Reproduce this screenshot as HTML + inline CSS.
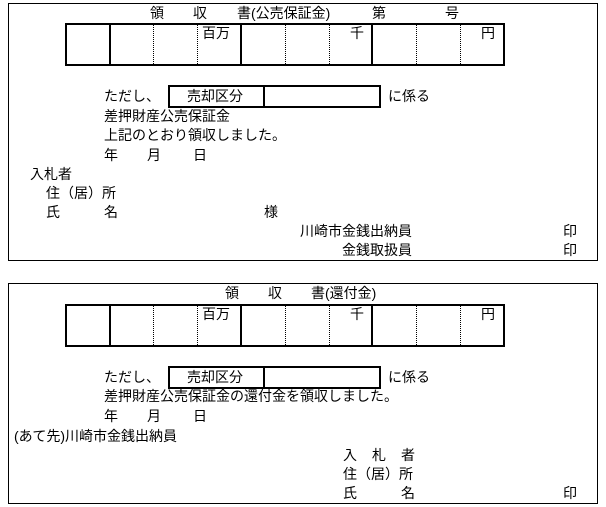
<!DOCTYPE html>
<html><head><meta charset="utf-8"><style>
body{margin:0;width:606px;height:507px;background:#fff;position:relative;overflow:hidden;font-family:"Liberation Sans","Noto Sans CJK JP",sans-serif;font-size:14px;color:#000}
.t{position:absolute;line-height:16px;white-space:pre}
.b{position:absolute;border:1px solid #000;box-sizing:border-box}
.k{position:absolute;border:2px solid #000;box-sizing:border-box}
.v{position:absolute;width:0;border-left:2px solid #000}
.d{position:absolute;width:0;border-left:1px dotted #000}
</style></head><body>
<div class="b" style="left:8px;top:3px;width:590px;height:258px"></div>
<div class="b" style="left:8px;top:283px;width:590px;height:221px"></div>

<span class="t" style="left:150px;top:5px">領</span>
<span class="t" style="left:193px;top:5px">収</span>
<span class="t" style="left:237px;top:5px">書(公売保証金)</span>
<span class="t" style="left:372px;top:5px">第</span>
<span class="t" style="left:445px;top:5px">号</span>

<div class="k" style="left:65px;top:23px;width:440px;height:43px"></div>
<div class="v" style="left:109px;top:23px;height:43px"></div>
<div class="d" style="left:153px;top:25px;height:39px"></div>
<div class="d" style="left:197px;top:25px;height:39px"></div>
<div class="v" style="left:240px;top:23px;height:43px"></div>
<div class="d" style="left:285px;top:25px;height:39px"></div>
<div class="d" style="left:329px;top:25px;height:39px"></div>
<div class="v" style="left:371px;top:23px;height:43px"></div>
<div class="d" style="left:416px;top:25px;height:39px"></div>
<div class="d" style="left:460px;top:25px;height:39px"></div>
<span class="t" style="left:202px;top:25px">百万</span>
<span class="t" style="left:350px;top:25px">千</span>
<span class="t" style="left:481px;top:25px">円</span>

<span class="t" style="left:104px;top:88px">ただし、</span>
<div class="k" style="left:168px;top:85px;width:213px;height:23px"></div>
<div class="v" style="left:263px;top:85px;height:23px"></div>
<span class="t" style="left:187px;top:88px">売却区分</span>
<span class="t" style="left:388px;top:88px">に係る</span>
<span class="t" style="left:104px;top:108px">差押財産公売保証金</span>
<span class="t" style="left:104px;top:127px">上記のとおり領収しました。</span>
<span class="t" style="left:104px;top:147px">年</span>
<span class="t" style="left:147px;top:147px">月</span>
<span class="t" style="left:193px;top:147px">日</span>
<span class="t" style="left:30px;top:166px">入札者</span>
<span class="t" style="left:46px;top:185px">住（居）所</span>
<span class="t" style="left:46px;top:204px">氏</span>
<span class="t" style="left:104px;top:204px">名</span>
<span class="t" style="left:264px;top:204px">様</span>
<span class="t" style="left:300px;top:223px">川崎市金銭出納員</span>
<span class="t" style="left:563px;top:223px">印</span>
<span class="t" style="left:342px;top:242px">金銭取扱員</span>
<span class="t" style="left:563px;top:242px">印</span>

<span class="t" style="left:225px;top:285px">領</span>
<span class="t" style="left:268px;top:285px">収</span>
<span class="t" style="left:311px;top:285px">書(還付金)</span>

<div class="k" style="left:65px;top:304px;width:440px;height:43px"></div>
<div class="v" style="left:109px;top:304px;height:43px"></div>
<div class="d" style="left:153px;top:306px;height:39px"></div>
<div class="d" style="left:197px;top:306px;height:39px"></div>
<div class="v" style="left:240px;top:304px;height:43px"></div>
<div class="d" style="left:285px;top:306px;height:39px"></div>
<div class="d" style="left:329px;top:306px;height:39px"></div>
<div class="v" style="left:371px;top:304px;height:43px"></div>
<div class="d" style="left:416px;top:306px;height:39px"></div>
<div class="d" style="left:460px;top:306px;height:39px"></div>
<span class="t" style="left:202px;top:306px">百万</span>
<span class="t" style="left:350px;top:306px">千</span>
<span class="t" style="left:481px;top:306px">円</span>

<span class="t" style="left:104px;top:369px">ただし、</span>
<div class="k" style="left:168px;top:366px;width:213px;height:23px"></div>
<div class="v" style="left:263px;top:366px;height:23px"></div>
<span class="t" style="left:187px;top:369px">売却区分</span>
<span class="t" style="left:388px;top:369px">に係る</span>
<span class="t" style="left:104px;top:388px">差押財産公売保証金の還付金を領収しました。</span>
<span class="t" style="left:104px;top:408px">年</span>
<span class="t" style="left:147px;top:408px">月</span>
<span class="t" style="left:193px;top:408px">日</span>
<span class="t" style="left:14px;top:428px">(あて先)川崎市金銭出納員</span>
<span class="t" style="left:343px;top:447px">入</span>
<span class="t" style="left:372px;top:447px">札</span>
<span class="t" style="left:401px;top:447px">者</span>
<span class="t" style="left:343px;top:466px">住（居）所</span>
<span class="t" style="left:343px;top:485px">氏</span>
<span class="t" style="left:401px;top:485px">名</span>
<span class="t" style="left:563px;top:485px">印</span>
</body></html>
